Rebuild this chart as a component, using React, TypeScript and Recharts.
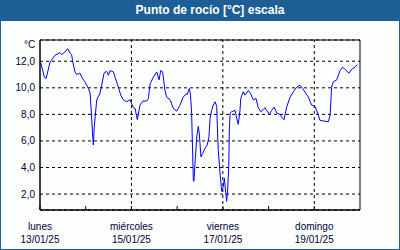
import React from 'react';
import { LineChart, Line, XAxis, YAxis, CartesianGrid, ReferenceLine, ReferenceArea } from 'recharts';

const hours = [0.4, 2.3, 3.2, 5.3, 7.9, 10.5, 11.4, 13.1, 14.5, 15.8, 16.6, 17.2, 18.4, 19.3, 21, 21.9, 23.6, 25.4, 26.3, 27.1, 27.7, 28, 28.5, 29.8, 31.5, 32.4, 33.6, 35, 35.9, 36.8, 38.5, 39.4, 41.1, 42.4, 43.7, 45.5, 47.3, 49, 49.9, 50.8, 51.1, 52.5, 53.9, 56, 56.9, 57.8, 59.5, 61.3, 62.5, 63.4, 64.4, 65.6, 66.5, 68.3, 70, 71.8, 73.5, 75.2, 76.7, 77.3, 78.4, 79, 79.6, 80.5, 80.8, 81.5, 82.3, 83.1, 83.6, 84, 84.5, 85.4, 86.1, 86.6, 87.8, 88.7, 89.3, 90.1, 91, 91.9, 92.8, 93.3, 93.6, 94.5, 95.4, 96.2, 96.8, 97.5, 98, 98.5, 99.1, 99.4, 99.8, 100.6, 102.4, 103.3, 104.1, 105, 105.4, 106.7, 107.6, 109.4, 110.6, 112, 113.4, 114.6, 115.9, 117.2, 118.1, 119, 120.4, 121.6, 122.9, 124.3, 126, 126.9, 128.1, 129.5, 131.3, 133, 134.8, 136.5, 137.9, 139.7, 140.9, 142.6, 144.4, 146.1, 147, 148.7, 151.4, 152.3, 153.1, 154, 155.8, 157.5, 158.9, 160.1, 162.2, 163.6, 165.4, 166.6];
const dewPoint = [11.9, 10.8, 10.7, 11.95, 12.45, 12.65, 12.5, 12.7, 12.95, 12.6, 12.5, 11.95, 11.2, 11.0, 11.1, 10.8, 10.45, 9.95, 9.6, 7.8, 6.3, 5.7, 7.1, 9.1, 9.6, 10.2, 11.1, 11.25, 10.95, 11.3, 11.2, 10.8, 10.05, 9.45, 9.1, 8.95, 9.1, 8.5, 8.45, 7.8, 7.6, 8.7, 9.0, 9.0, 9.2, 10.3, 10.8, 11.2, 10.6, 11.3, 11.2, 9.8, 9.3, 9.1, 8.45, 8.25, 8.7, 9.3, 9.55, 9.5, 9.95, 9.5, 8.1, 3.05, 2.95, 4.6, 6.3, 7.1, 6.6, 5.8, 4.8, 5.05, 5.3, 5.45, 5.7, 6.3, 7.7, 8.3, 8.7, 8.95, 8.6, 6.3, 5.3, 3.6, 2.2, 2.55, 3.2, 2.1, 1.45, 2.3, 4.1, 6.8, 8.1, 8.2, 8.3, 7.7, 7.25, 8.3, 9.2, 9.7, 9.45, 9.8, 9.55, 9.1, 9.2, 8.5, 8.2, 8.35, 8.5, 8.3, 8.0, 8.3, 8.55, 8.1, 8.0, 7.8, 7.6, 8.55, 9.3, 9.7, 10.05, 10.2, 9.95, 9.55, 9.3, 8.7, 8.6, 7.95, 7.55, 7.5, 7.45, 7.95, 10.05, 10.45, 10.6, 11.3, 11.55, 11.4, 11.1, 11.4, 11.55, 11.75];

const yTicks = [2, 4, 6, 8, 10, 12];
const dayTicks = [0, 24, 48, 72, 96, 120, 144];
const gridDays = [48, 96, 144];
const dayNames = ['lunes', 'martes', 'miércoles', 'jueves', 'viernes', 'sábado', 'domingo'];
const dateLabels = ['13/01/25', '14/01/25', '15/01/25', '16/01/25', '17/01/25', '18/01/25', '19/01/25'];

const data = hours.map((h, i) => ({ h, v: dewPoint[i] }));

const FONT = '"Liberation Sans", Arial, sans-serif';
const TEXT = '#000040';

const DayTick = (props: any) => {
  const { x, y, payload } = props;
  const idx = Math.round(payload.value / 24);
  const showLabel = idx % 2 === 0;
  return (
    <g>
      <line x1={x} y1={y} x2={x} y2={y - 4} stroke="#000" strokeWidth={1} />
      {showLabel && (
        <>
          <text x={x} y={y + 19.5} textAnchor="middle" fontSize={10} fontFamily={FONT} fill={TEXT}>
            {dayNames[idx]}
          </text>
          <text x={x} y={y + 33} textAnchor="middle" fontSize={10} fontFamily={FONT} fill={TEXT}>
            {dateLabels[idx]}
          </text>
        </>
      )}
    </g>
  );
};

export default function App() {
  return (
    <div style={{ position: 'absolute', left: 0, top: 0, width: 400, height: 250, background: '#1E5E96' }}>
      <div style={{ position: 'absolute', left: 1, top: 21, width: 398, height: 228, background: '#FCFEFC' }} />
      <div
        style={{
          position: 'absolute', left: 20, top: 0, width: 380, height: 21, lineHeight: '21px',
          textAlign: 'center', color: '#fff', fontWeight: 'bold', fontSize: 12, fontFamily: FONT,
        }}
      >
        Punto de rocío [°C] escala
      </div>
      <div
        style={{
          position: 'absolute', left: 24, top: 39, fontSize: 10, fontFamily: FONT, color: TEXT, lineHeight: '12px',
        }}
      >
        °C
      </div>
      <div style={{ position: 'absolute', left: 0, top: 0 }}>
        <LineChart width={400} height={250} data={data} margin={{ top: 40, right: 40, bottom: 0, left: 0 }}>
          <CartesianGrid vertical={false} stroke="#000" strokeDasharray="3 3" />
          {gridDays.map((d) => (
            <ReferenceLine key={d} x={d} stroke="#000" strokeDasharray="3 3" />
          ))}
          <ReferenceArea x1={0} x2={168} y1={0.8} y2={13.6} fill="none" stroke="#000" strokeWidth={1} fillOpacity={0} />
          <XAxis
            type="number"
            dataKey="h"
            domain={[0, 168]}
            ticks={dayTicks}
            interval={0}
            height={40}
            tickLine={false}
            tickSize={0}
            tickMargin={0}
            axisLine={{ stroke: '#000' }}
            tick={<DayTick />}
            allowDataOverflow
          />
          <YAxis
            type="number"
            domain={[0.8, 13.6]}
            ticks={yTicks}
            width={40}
            tickLine={false}
            tickSize={5}
            tickMargin={0}
            axisLine={{ stroke: '#000' }}
            tick={{ fill: TEXT, fontSize: 10, fontFamily: FONT }}
            tickFormatter={(v: number) => v.toFixed(1).replace('.', ',')}
            allowDataOverflow
          />
          <Line type="linear" dataKey="v" stroke="#0000FF" strokeWidth={1} dot={false} isAnimationActive={false} />
        </LineChart>
      </div>
    </div>
  );
}
